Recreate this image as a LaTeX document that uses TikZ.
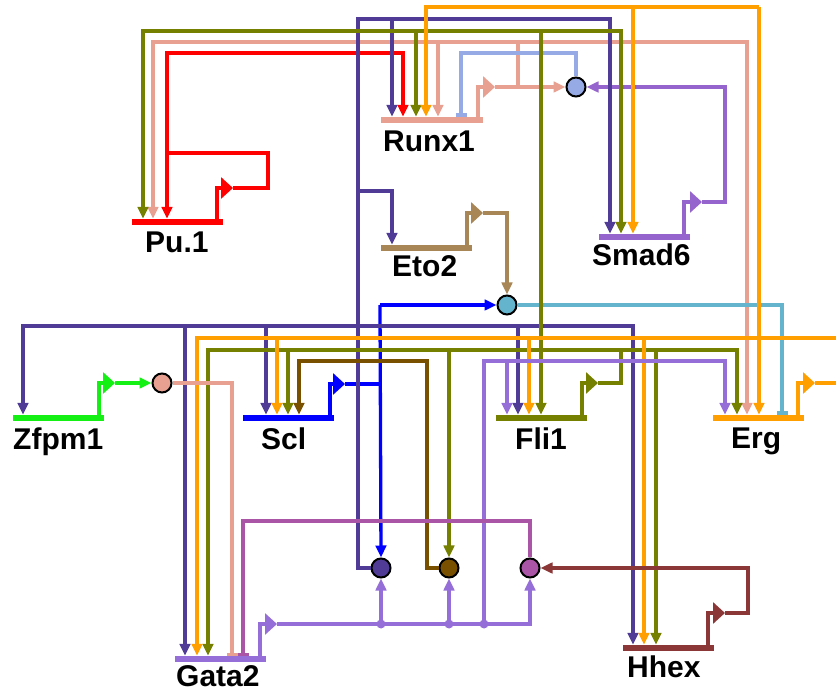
\documentclass[tikz,border=0pt]{standalone}
\usepackage{fontspec}
\setmainfont{Liberation Sans}
\usetikzlibrary{arrows.meta}
\definecolor{cPu}{RGB}{255,0,0}
\definecolor{cRunx}{RGB}{232,160,144}
\definecolor{cSmad}{RGB}{150,100,205}
\definecolor{cEto}{RGB}{168,134,86}
\definecolor{cZf}{RGB}{20,240,20}
\definecolor{cScl}{RGB}{0,0,255}
\definecolor{cFli}{RGB}{118,128,0}
\definecolor{cErg}{RGB}{255,160,0}
\definecolor{cGa}{RGB}{150,110,215}
\definecolor{cHh}{RGB}{140,55,55}
\definecolor{cDp}{RGB}{80,60,150}
\definecolor{cBr}{RGB}{120,80,0}
\definecolor{cMg}{RGB}{170,85,165}
\definecolor{cCy}{RGB}{100,180,205}
\definecolor{cLb}{RGB}{150,170,230}
\tikzset{
  gbar/.style={rectangle, inner sep=0pt, minimum height=6pt, minimum width=91pt},
  glab/.style={anchor=base west, inner sep=0pt, font=\fontsize{30}{30}\selectfont\bfseries},
  prom/.style={line width=4.5pt, -{Triangle[length=12pt,width=21pt]}},
  lnk/.style={line width=3.3pt},
  act/.style={lnk, -{Triangle[length=12pt,width=10.5pt]}},
  rep/.style={lnk, -{Bar[width=11pt]}},
  cplx/.style={circle, draw=black, line width=2pt, minimum size=19pt, inner sep=0pt},
  jdot/.style={circle, inner sep=0pt, minimum size=9pt},
}
\begin{document}
\begin{tikzpicture}[x=1pt,y=-1pt]
  \useasboundingbox (0,0) rectangle (836,692);
  \node[gbar, fill=cPu] (pu) at (177,222) {};
  \node[gbar, fill=cRunx, minimum width=102pt] (runx) at (432,120) {};
  \node[gbar, fill=cSmad] (smad) at (644.5,237) {};
  \node[gbar, fill=cEto] (eto) at (426.5,248) {};
  \node[gbar, fill=cZf] (zf) at (58.5,418) {};
  \node[gbar, fill=cScl] (scl) at (288.5,418) {};
  \node[gbar, fill=cFli] (fli) at (541.5,418) {};
  \node[gbar, fill=cErg] (erg) at (758.5,418) {};
  \node[gbar, fill=cGa] (ga) at (220,659) {};
  \node[gbar, fill=cHh] (hh) at (668,648) {};
  \node[glab] (pul) at (145,253) {Pu.1};
  \node[glab] (runxl) at (383,152) {Runx1};
  \node[glab] (smadl) at (592,266) {Smad6};
  \node[glab] (etol) at (392,277) {Eto2};
  \node[glab] (zfl) at (13,450) {Zfpm1};
  \node[glab] (scll) at (261,450) {Scl};
  \node[glab] (flil) at (515,450) {Fli1};
  \node[glab] (ergl) at (731,449) {Erg};
  \node[glab] (gal) at (176,686) {Gata2};
  \node[glab] (hhl) at (627,677) {Hhex};
  \node[cplx, fill=cLb] (lbc) at (576,87) {};
  \node[cplx, fill=cCy] (cyc) at (507,305) {};
  \node[cplx, fill=cRunx] (zfc) at (162,383) {};
  \node[cplx, fill=cDp] (dpc) at (381,568) {};
  \node[cplx, fill=cBr] (brc) at (449,568) {};
  \node[cplx, fill=cMg] (mgc) at (530,568) {};
  \coordinate (pup) at (233,188);
  \coordinate (runxp) at (495,87);
  \coordinate (smadp) at (702,202);
  \coordinate (etop) at (483,213);
  \coordinate (zfp) at (115,383);
  \coordinate (sclp) at (345,384);
  \coordinate (flip) at (598,383);
  \coordinate (ergp) at (815,383);
  \coordinate (gap) at (277,624);
  \coordinate (hhp) at (725,613);
  \draw[prom, cPu] (217,0 |- pu.center) |- (pup);
  \draw[prom, cRunx] (478,0 |- runx.center) |- (runxp);
  \draw[prom, cSmad] (684,0 |- smad.center) |- (smadp);
  \draw[prom, cEto] (467,0 |- eto.center) |- (etop);
  \draw[prom, cZf] (99,0 |- zf.center) |- (zfp);
  \draw[prom, cScl] (330,0 |- scl.center) |- (sclp);
  \draw[prom, cFli] (582,0 |- fli.center) |- (flip);
  \draw[prom, cErg] (798,0 |- erg.center) |- (ergp);
  \draw[prom, cGa] (260,0 |- ga.center) |- (gap);
  \draw[prom, cHh] (708,0 |- hh.center) |- (hhp);
  \draw[act, cPu] (pup) -| (268,153) -| (167,53) -| (403,0 |- runx.north);
  \draw[act, cPu] (167,153) -- (167,0 |- pu.north);
  \draw[act, cRunx] (runxp) -- (lbc.west);
  \draw[lnk, cRunx] (518,87) -- (518,42);
  \draw[act, cRunx] (518,42) -| (153,0 |- pu.north);
  \draw[act, cRunx] (518,42) -| (747,0 |- erg.north);
  \draw[act, cRunx] (438,42) -- (438,0 |- runx.north);
  \draw[act, cSmad] (smadp) -| (725,87) -- (lbc.east);
  \draw[rep, cLb] (lbc.north) |- (461,53) -- (461,0 |- runx.north);
  \draw[act, cEto] (etop) -| (cyc.north);
  \draw[lnk, cScl] (sclp) -- (380,384);
  \draw[act, cScl] (380,305) -- (dpc.north);
  \draw[act, cScl] (380,305) -- (cyc.west);
  \draw[rep, cCy] (cyc.east) -| (782,0 |- erg.north);
  \draw[act, cDp] (dpc.west) -| (358,19) -| (610,0 |- smad.north);
  \draw[act, cDp] (392,19) -- (392,0 |- runx.north);
  \draw[act, cDp] (358,191) -| (392,0 |- eto.north);
  \draw[act, cDp] (358,326) -| (23,0 |- zf.north);
  \draw[act, cDp] (358,326) -| (633,0 |- hh.north);
  \draw[act, cDp] (185,326) -- (185,0 |- ga.north);
  \draw[act, cDp] (266,326) -- (266,0 |- scl.north);
  \draw[act, cDp] (518,326) -- (518,0 |- fli.north);
  \draw[lnk, cFli] (flip) -| (621,350);
  \draw[act, cFli] (621,350) -| (208,0 |- ga.north);
  \draw[act, cFli] (621,350) -| (737,0 |- erg.north);
  \draw[act, cFli] (288,350) -- (288,0 |- scl.north);
  \draw[act, cFli] (449,350) -- (brc.north);
  \draw[act, cFli] (656,350) -- (656,0 |- hh.north);
  \draw[act, cFli] (541,31) -- (541,0 |- fli.north);
  \draw[act, cFli] (541,31) -| (143,0 |- pu.north);
  \draw[act, cFli] (541,31) -| (621,0 |- smad.north);
  \draw[act, cFli] (416,31) -- (416,0 |- runx.north);
  \draw[lnk, cErg] (ergp) -- (836,383);
  \draw[act, cErg] (836,338) -| (197,0 |- ga.north);
  \draw[act, cErg] (277,338) -- (277,0 |- scl.north);
  \draw[act, cErg] (529,338) -- (529,0 |- fli.north);
  \draw[act, cErg] (644,338) -- (644,0 |- hh.north);
  \draw[act, cErg] (759,7) -- (759,0 |- erg.north);
  \draw[act, cErg] (759,7) -| (426,0 |- runx.north);
  \draw[act, cErg] (633,7) -- (633,0 |- smad.north);
  \draw[act, cGa] (gap) -| (mgc.south);
  \draw[act, cGa] (381,624) -- (dpc.south);
  \draw[act, cGa] (449,624) -- (brc.south);
  \draw[act, cGa] (484,624) |- (725,361) -- (725,0 |- erg.north);
  \draw[act, cGa] (507,361) -- (507,0 |- fli.north);
  \node[jdot, fill=cGa] (gd1) at (381,624) {};
  \node[jdot, fill=cGa] (gd2) at (449,624) {};
  \node[jdot, fill=cGa] (gd3) at (484,624) {};
  \draw[act, cBr] (brc.west) -| (427,361) -| (299,0 |- scl.north);
  \draw[rep, cMg] (mgc.north) |- (243,521) -- (243,0 |- ga.north);
  \draw[act, cHh] (hhp) -| (748,568) -- (mgc.east);
  \draw[act, cZf] (zfp) -- (zfc.west);
  \draw[rep, cRunx] (zfc.east) -| (232,0 |- ga.north);
\end{tikzpicture}
\end{document}
